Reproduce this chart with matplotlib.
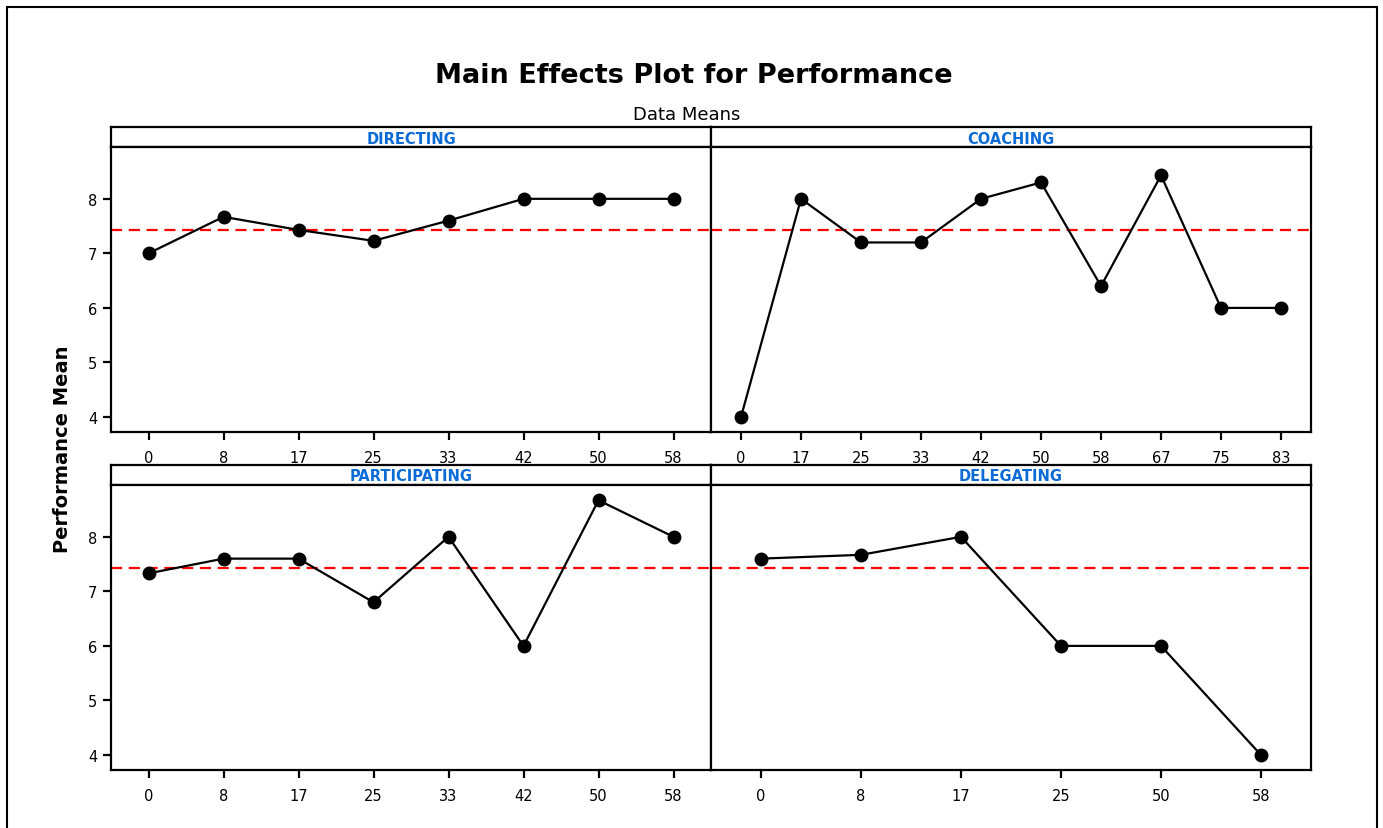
import matplotlib
matplotlib.use("Agg")
import matplotlib.pyplot as plt
import matplotlib.patches as mpatches

# ---------------- data ----------------
directing_levels = ['0', '8', '17', '25', '33', '42', '50', '58']
directing_means = [7.0, 7.67, 7.43, 7.23, 7.6, 8.0, 8.0, 8.0]

coaching_levels = ['0', '17', '25', '33', '42', '50', '58', '67', '75', '83']
coaching_means = [4.0, 8.0, 7.2, 7.2, 8.0, 8.3, 6.4, 8.43, 6.0, 6.0]

participating_levels = ['0', '8', '17', '25', '33', '42', '50', '58']
participating_means = [7.33, 7.6, 7.6, 6.8, 8.0, 6.0, 8.67, 8.0]

delegating_levels = ['0', '8', '17', '25', '50', '58']
delegating_means = [7.6, 7.67, 8.0, 6.0, 6.0, 4.0]

overall_mean = 7.43
y_ticks = [4, 5, 6, 7, 8]

title = "Main Effects Plot for Performance"
subtitle = "Data Means"
ylabel = "Performance Mean"

# ---------------- layout ----------------
W, H = 1383, 829
fig = plt.figure(figsize=(W / 100, H / 100), dpi=100)
plt.rcParams['font.family'] = ['DejaVu Sans']

def fbox(x0, y0, x1, y1):
    return [x0 / W, 1 - y1 / H, (x1 - x0) / W, (y1 - y0) / H]

# outer frame
fig.patches.append(mpatches.Rectangle((7 / W, -0.05), (1377 - 7) / W, 1 - 8 / H + 0.05,
                                      transform=fig.transFigure, fill=False,
                                      edgecolor='black', linewidth=1.5))

strip_color = '#0a6ad6'
lw = 1.6

panels = [
    ("DIRECTING", directing_levels, directing_means, (111, 711), (128, 148, 433), True),
    ("COACHING", coaching_levels, coaching_means, (711, 1311), (128, 148, 433), False),
    ("PARTICIPATING", participating_levels, participating_means, (111, 711), (466, 486, 771), True),
    ("DELEGATING", delegating_levels, delegating_means, (711, 1311), (466, 486, 771), False),
]

for name, levels, means, (x0, x1), (ys, y0, y1), show_y in panels:
    # strip
    sax = fig.add_axes(fbox(x0, ys, x1, y0))
    sax.set_xticks([])
    sax.set_yticks([])
    for sp in sax.spines.values():
        sp.set_linewidth(lw)
    sax.text(0.5, 0.45, name, transform=sax.transAxes, ha='center', va='center',
             fontsize=10.5, fontweight='bold', color=strip_color)

    ax = fig.add_axes(fbox(x0, y0, x1, y1))
    ax.axhline(overall_mean, color='red', linewidth=lw, dashes=(5, 3), zorder=1)
    ax.plot(levels, means, color='black', linewidth=lw, marker='o',
            markersize=9, markerfacecolor='black', zorder=3)
    ax.set_xlim(-0.5, len(levels) - 0.5)
    ax.set_ylim(3.725, 8.95)
    ax.set_yticks(y_ticks)
    for sp in ax.spines.values():
        sp.set_linewidth(lw)
    ax.tick_params(axis='x', direction='out', length=6, width=lw, pad=7, labelsize=10.5)
    if show_y:
        ax.tick_params(axis='y', direction='out', length=6, width=lw, pad=4, labelsize=10.5)
    else:
        ax.tick_params(axis='y', left=False, labelleft=False)

fig.text(694 / W, 1 - 76 / H, title, ha='center', va='center',
         fontsize=19.5, fontweight='bold')
fig.text(687 / W, 1 - 115 / H, subtitle, ha='center', va='center', fontsize=13)
fig.text(62 / W, 1 - 449 / H, ylabel, ha='center', va='center', rotation=90,
         fontsize=14, fontweight='bold')

fig.savefig("out.png", dpi=100)
